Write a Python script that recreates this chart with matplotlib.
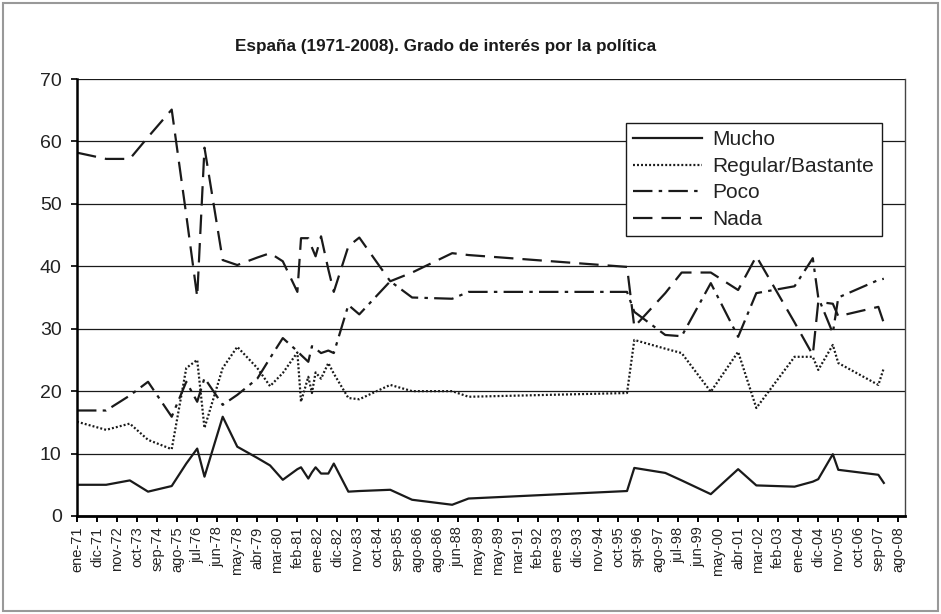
import matplotlib
matplotlib.use("Agg")
import matplotlib.pyplot as plt
from matplotlib.patches import Rectangle

# Fechas de las encuestas (año-mes)
fechas = ["1971-01", "1972-05", "1973-06", "1974-04", "1975-05", "1976-01",
          "1976-07", "1976-11", "1977-09", "1978-05", "1979-04", "1979-11",
          "1980-06", "1981-02", "1981-04", "1981-08", "1981-10", "1981-12",
          "1982-03", "1982-07", "1982-10", "1983-06", "1983-12", "1985-05",
          "1986-05", "1988-03", "1988-12", "1996-03", "1996-07", "1997-12",
          "1998-09", "2000-01", "2001-04", "2002-02", "2003-11", "2004-09",
          "2004-12", "2005-08", "2005-11", "2007-09", "2007-12"]

mucho = [5.0, 5.0, 5.7, 3.9, 4.8, 8.4, 10.8, 6.3, 15.9, 11.1,
         9.3, 8.1, 5.8, 7.5, 7.8, 6.0, 7.0, 7.8, 6.8, 6.8,
         8.4, 3.9, 4.0, 4.2, 2.6, 1.8, 2.8, 4.0, 7.7, 6.9,
         5.7, 3.5, 7.5, 4.9, 4.7, 5.5, 5.9, 9.9, 7.4, 6.6, 5.3]
regular = [15.1, 13.8, 14.8, 12.2, 10.7, 23.7, 25.0, 14.1, 23.7, 27.1,
           23.7, 20.8, 22.9, 26.2, 18.3, 22.3, 19.7, 23.0, 22.0, 24.5,
           22.8, 18.9, 18.7, 21.0, 20.0, 20.0, 19.1, 19.7, 28.2, 26.8,
           26.1, 19.9, 26.3, 17.3, 25.5, 25.5, 23.4, 27.4, 24.5, 21.0, 23.7]
poco = [16.9, 16.9, 19.3, 21.5, 15.9, 21.5, 18.3, 22.1, 17.8, 19.4,
        22.0, 25.3, 28.5, 26.4, 25.8, 24.7, 27.2, 26.8, 26.1, 26.5,
        26.1, 33.8, 32.3, 37.6, 35.0, 34.8, 35.9, 35.9, 32.7, 29.0,
        28.8, 37.3, 28.7, 35.7, 36.8, 41.3, 35.0, 29.3, 35.0, 37.8, 38.0]
nada = [58.2, 57.2, 57.2, 60.7, 65.1, 48.2, 35.1, 59.0, 41.0, 40.2,
        41.4, 42.1, 40.8, 35.9, 44.5, 44.5, 43.0, 41.6, 44.8, 39.5,
        35.9, 43.2, 44.6, 37.6, 39.0, 42.1, 41.8, 39.9, 30.3, 35.7,
        39.0, 39.0, 36.2, 41.6, 31.0, 25.8, 34.3, 34.0, 32.0, 33.5, 30.9]

# Rótulos del eje X (una marca cada 11 meses desde ene-71)
etiquetas = ["ene-71", "dic-71", "nov-72", "oct-73", "sep-74", "ago-75",
             "jul-76", "jun-78", "may-78", "abr-79", "mar-80", "feb-81",
             "ene-82", "dic-82", "nov-83", "oct-84", "sep-85", "ago-86",
             "ago-86", "jun-88", "may-89", "may-89", "mar-91", "feb-92",
             "ene-93", "dic-93", "nov-94", "oct-95", "spt-96", "ago-97",
             "jul-98", "jun-99", "may-00", "abr-01", "mar-02", "feb-03",
             "ene-04", "dic-04", "nov-05", "oct-06", "sep-07", "ago-08"]


def posicion(fecha):
    anio, mes = fecha.split("-")
    meses = (int(anio) - 1971) * 12 + int(mes) - 1
    return meses / 11.0


plt.rcParams["font.family"] = ["Liberation Sans", "DejaVu Sans"]
plt.rcParams["lines.scale_dashes"] = False

fig = plt.figure(figsize=(9.41, 6.14), dpi=100)
ax = fig.add_axes([77 / 941, 1 - 516 / 614, (905 - 77) / 941, (516 - 79) / 614])

x = [posicion(f) for f in fechas]

ax.plot(x, mucho, color="#1a1a1a", lw=1.6, label="Mucho")
ax.plot(x, regular, color="#1a1a1a", lw=1.6, dashes=(1.4, 1.5), label="Regular/Bastante")
ax.plot(x, poco, color="#1a1a1a", lw=1.6, dashes=(14, 4.5, 2.5, 4.5), label="Poco")
ax.plot(x, nada, color="#1a1a1a", lw=1.6, dashes=(14, 6.5), label="Nada")

ax.set_xlim(0, 41.33)
ax.set_ylim(0, 70)
ax.set_yticks(range(0, 71, 10))
ax.set_xticks(range(len(etiquetas)))
ax.set_xticklabels(etiquetas, rotation=90, fontsize=10.5, color="#222222")
ax.tick_params(axis="y", labelsize=14, direction="out", length=4, width=1.4, pad=7, colors="#222222")
ax.tick_params(axis="x", direction="out", length=4.5, width=1.4, pad=3)

ax.grid(axis="y", color="#1a1a1a", lw=0.9)
ax.set_axisbelow(True)
ax.spines["top"].set_visible(False)
ax.spines["left"].set_linewidth(1.8)
ax.spines["bottom"].set_linewidth(2.0)
ax.spines["right"].set_linewidth(1.0)
ax.spines["right"].set_color("#444444")

fig.text(446 / 941, 1 - 46 / 614, "España (1971-2008). Grado de interés por la política",
         ha="center", va="center", fontsize=12.3, fontweight="bold", color="#1a1a1a")

leg = ax.legend(loc="upper left", bbox_to_anchor=(626 / 941, 1 - 123 / 614),
                bbox_transform=fig.transFigure, borderaxespad=0, fontsize=15,
                handlelength=3.3, handletextpad=0.5, labelspacing=0.36,
                borderpad=0.35, fancybox=False, framealpha=1)
leg.get_frame().set_edgecolor("#1a1a1a")
leg.get_frame().set_linewidth(1.0)
for t in leg.get_texts():
    t.set_color("#222222")

# marco exterior del gráfico
fig.patches.append(Rectangle((3 / 941, 3 / 614), 935 / 941, 608 / 614,
                             transform=fig.transFigure, fill=False,
                             edgecolor="#999999", lw=1.5))

fig.savefig("out.png", dpi=100)
